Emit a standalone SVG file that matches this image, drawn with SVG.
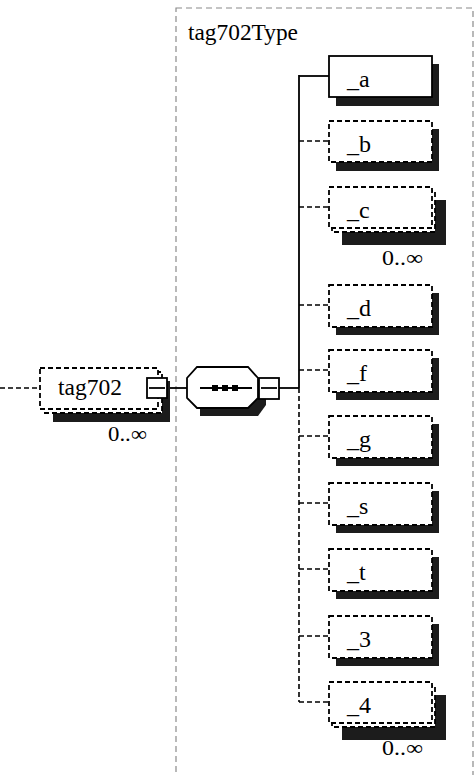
<svg xmlns="http://www.w3.org/2000/svg" width="476" height="775" viewBox="0 0 476 775">
<defs>
<style>
.bg{fill:#fff}
.container{fill:none;stroke:#8a8a8a;stroke-width:1.2;stroke-dasharray:6 4}
.box{fill:#fff;stroke:#000;stroke-width:1.8}
.opt{fill:#fff;stroke:#000;stroke-width:1.8;stroke-dasharray:5 3}
.shadow{fill:#1c1c1c}
.lbl{font-family:"Liberation Serif","Times New Roman",serif;font-size:24px;fill:#000}
.mult{font-family:"Liberation Serif","Times New Roman",serif;font-size:21px;fill:#000}
.solid{stroke:#000;stroke-width:1.8;fill:none}
.dash{stroke:#000;stroke-width:1.6;fill:none;stroke-dasharray:5 3}
</style>
</defs>
<rect class="bg" x="0" y="0" width="476" height="775"/>

<g id="tag702Type">
<rect class="container" x="176" y="8" width="297" height="800"/>
<text class="lbl" x="188" y="40" font-size="20" textLength="110" lengthAdjust="spacingAndGlyphs">tag702Type</text>
</g>

<g id="connectors">
<line class="dash" x1="0" y1="388" x2="40" y2="388"/>
<line class="solid" x1="167" y1="388" x2="188" y2="388"/>
<line class="solid" x1="279" y1="388" x2="299" y2="388"/>
<line class="solid" x1="299" y1="75" x2="299" y2="388"/>
<line class="dash" x1="299" y1="388" x2="299" y2="702"/>
<line class="solid" x1="299" y1="76" x2="329" y2="76"/>
<line class="dash" x1="299" y1="141" x2="329" y2="141"/>
<line class="dash" x1="299" y1="207" x2="329" y2="207"/>
<line class="dash" x1="299" y1="305" x2="329" y2="305"/>
<line class="dash" x1="299" y1="370" x2="329" y2="370"/>
<line class="dash" x1="299" y1="436" x2="329" y2="436"/>
<line class="dash" x1="299" y1="503" x2="329" y2="503"/>
<line class="dash" x1="299" y1="569" x2="329" y2="569"/>
<line class="dash" x1="299" y1="636" x2="329" y2="636"/>
<line class="dash" x1="299" y1="702" x2="329" y2="702"/>
</g>

<g id="tag702">
<rect class="shadow" x="53" y="381" width="117" height="41"/>
<rect class="opt" x="44" y="372" width="118" height="41"/>
<rect class="opt" x="40" y="368" width="118" height="41"/>
<text class="lbl" x="58" y="395" font-size="23" textLength="64" lengthAdjust="spacingAndGlyphs">tag702</text>
<rect class="box" x="147" y="378" width="20" height="20" stroke-width="2.2"/>
<line class="solid" x1="149" y1="388" x2="165" y2="388"/>
<text class="mult" x="108" y="441" textLength="39" lengthAdjust="spacingAndGlyphs">0..∞</text>
</g>

<g id="sequence">
<polygon class="shadow" points="200,394 266,394 266,405 258,416 200,416"/>
<polygon class="box" points="197,367 248,367 258,378 258,398 248,408 197,408 187,398 187,378"/>
<line class="solid" x1="200" y1="388" x2="252" y2="388"/>
<rect x="212" y="385" width="6" height="6" fill="#000"/>
<rect x="222" y="385" width="6" height="6" fill="#000"/>
<rect x="232" y="385" width="6" height="6" fill="#000"/>
<rect class="box" x="259" y="378" width="20" height="21" stroke-width="2.2"/>
<line class="solid" x1="261" y1="388" x2="277" y2="388"/>
</g>

<g id="_a">
<rect class="shadow" x="336" y="64" width="103" height="42"/>
<rect class="box" x="329" y="56" width="103" height="41"/>
<text class="lbl" x="347" y="87">_a</text>
</g>
<g id="_b">
<rect class="shadow" x="336" y="129" width="103" height="42"/>
<rect class="opt" x="329" y="121" width="103" height="41"/>
<text class="lbl" x="347" y="152">_b</text>
</g>
<g id="_c">
<rect class="shadow" x="342" y="200" width="104" height="45"/>
<rect class="opt" x="332" y="191" width="103" height="41"/>
<rect class="opt" x="329" y="187" width="103" height="41"/>
<text class="lbl" x="347" y="218">_c</text>
<text class="mult" x="382" y="265" textLength="41" lengthAdjust="spacingAndGlyphs">0..∞</text>
</g>
<g id="_d">
<rect class="shadow" x="336" y="293" width="103" height="42"/>
<rect class="opt" x="329" y="285" width="103" height="42"/>
<text class="lbl" x="347" y="316">_d</text>
</g>
<g id="_f">
<rect class="shadow" x="336" y="358" width="103" height="42"/>
<rect class="opt" x="329" y="350" width="103" height="42"/>
<text class="lbl" x="347" y="381">_f</text>
</g>
<g id="_g">
<rect class="shadow" x="336" y="424" width="103" height="42"/>
<rect class="opt" x="329" y="416" width="103" height="42"/>
<text class="lbl" x="347" y="447">_g</text>
</g>
<g id="_s">
<rect class="shadow" x="336" y="491" width="103" height="42"/>
<rect class="opt" x="329" y="483" width="103" height="42"/>
<text class="lbl" x="347" y="514">_s</text>
</g>
<g id="_t">
<rect class="shadow" x="336" y="557" width="103" height="42"/>
<rect class="opt" x="329" y="549" width="103" height="42"/>
<text class="lbl" x="347" y="580">_t</text>
</g>
<g id="_3">
<rect class="shadow" x="336" y="624" width="103" height="42"/>
<rect class="opt" x="329" y="616" width="103" height="42"/>
<text class="lbl" x="347" y="647">_3</text>
</g>
<g id="_4">
<rect class="shadow" x="342" y="695" width="104" height="45"/>
<rect class="opt" x="332" y="686" width="103" height="41"/>
<rect class="opt" x="329" y="682" width="103" height="41"/>
<text class="lbl" x="347" y="713">_4</text>
<text class="mult" x="382" y="755" textLength="41" lengthAdjust="spacingAndGlyphs">0..∞</text>
</g>
</svg>
